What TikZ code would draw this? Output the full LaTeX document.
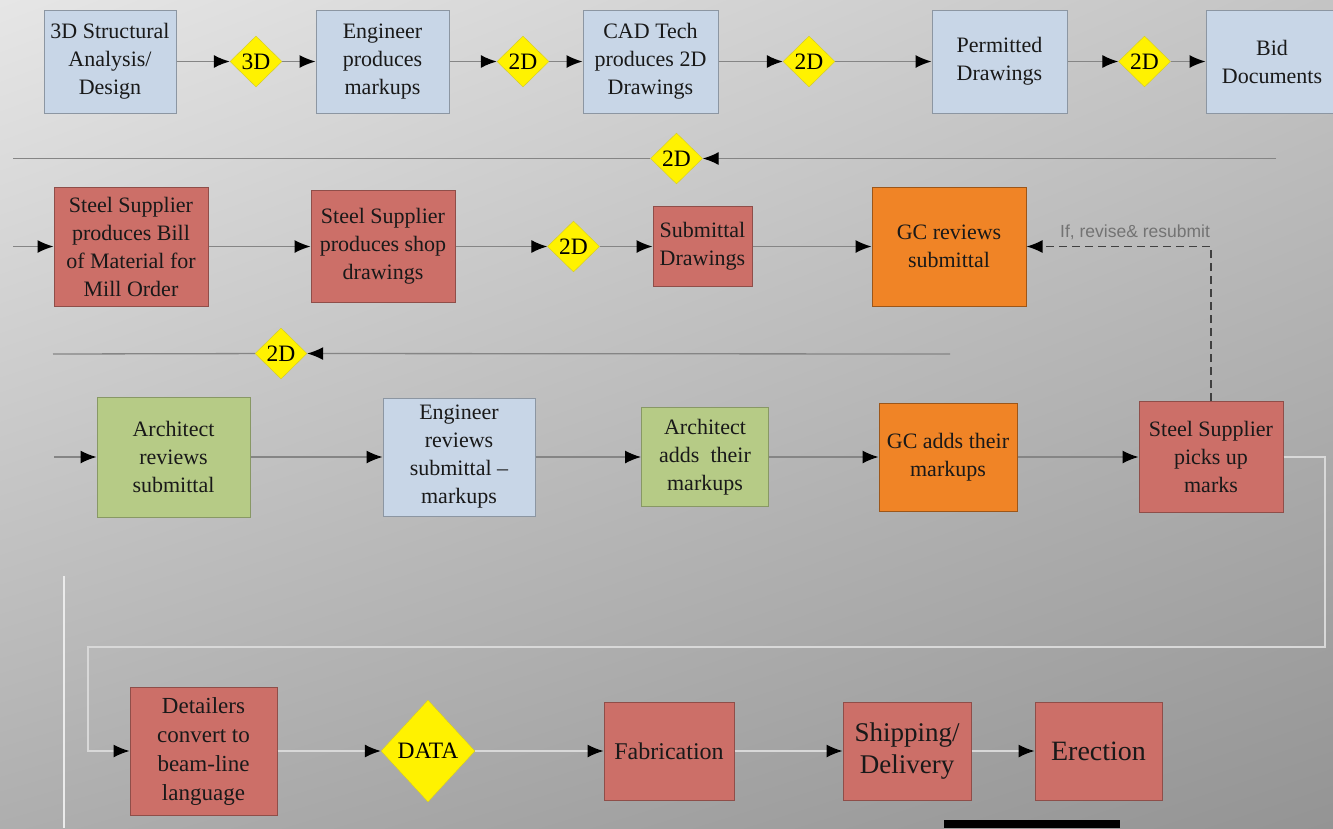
\documentclass[tikz,border=0pt]{standalone}
\usepackage{fontspec}
\setmainfont{Liberation Serif}
\newfontfamily\notefont{Liberation Sans}
\usetikzlibrary{arrows,arrows.meta,shapes,shadings,calc}
\definecolor{boxblue}{HTML}{C8D6E7}
\definecolor{boxred}{HTML}{CC6F68}
\definecolor{boxorange}{HTML}{F08426}
\definecolor{boxgreen}{HTML}{B6CB86}
\definecolor{lineclr}{HTML}{858585}
\definecolor{loopclr}{HTML}{D8D8D8}
\definecolor{bgtl}{HTML}{E6E6E6}
\definecolor{bgtr}{HTML}{C4C4C4}
\definecolor{bgbl}{HTML}{AEAEAE}
\definecolor{bgbr}{HTML}{949494}
\tikzset{
    block/.style = {draw, rectangle, line width=1pt, inner sep=2pt,
        align=center, text=black!90, font=\fontsize{22}{28}\selectfont},
    blueblock/.style = {block, fill=boxblue, draw=black!30!boxblue},
    redblock/.style = {block, fill=boxred, draw=black!30!boxred},
    orangeblock/.style = {block, fill=boxorange, draw=black!35!boxorange},
    greenblock/.style = {block, fill=boxgreen, draw=black!25!boxgreen},
    diam/.style = {diamond, draw=yellow!80!black, fill=yellow, inner sep=0pt,
        minimum width=52pt, minimum height=51pt, font=\fontsize{23.5}{26}\selectfont},
    arrow/.style = {draw=lineclr, line width=1.3pt, -{Latex[length=16pt,width=13pt,color=black]}},
    plain/.style = {draw=lineclr, line width=1.3pt},
    loopline/.style = {draw=loopclr, line width=1.3pt, -{Latex[length=16pt,width=13pt,color=black]}}
}

\begin{document}
\begin{tikzpicture}[x=1pt, y=-1pt]
    \useasboundingbox (0,0) rectangle (1333,828);
    \shade[upper left=bgtl, upper right=bgtr, lower left=bgbl, lower right=bgbr] (0,0) rectangle (1333,828);
    % row 1
    \node [blueblock, minimum width=132pt, minimum height=103pt] (struct) at (110,61.5) {3D Structural\\Analysis/\\Design};
    \node [diam, right of=struct, node distance=146pt] (d1) {3D};
    \node [blueblock, right of=d1, node distance=126.5pt, minimum width=133pt, minimum height=103pt] (engmark) {Engineer\\produces\\markups};
    \node [diam, right of=engmark, node distance=140.5pt] (d2) {2D};
    \node [blueblock, right of=d2, node distance=127.5pt, minimum width=135pt, minimum height=103pt] (cadtech) {CAD Tech\\produces 2D\\Drawings};
    \node [diam, right of=cadtech, node distance=158.5pt] (d3) {2D};
    \node [blueblock, right of=d3, node distance=190.5pt, minimum width=135pt, minimum height=103pt] (permit) {Permitted\\Drawings};
    \node [diam, right of=permit, node distance=145pt] (d4) {2D};
    \node [blueblock, right of=d4, node distance=127.5pt, minimum width=132pt, minimum height=103pt] (bid) {Bid\\Documents};
    \foreach \a/\b in {struct/d1,d1/engmark,engmark/d2,d2/cadtech,cadtech/d3,d3/permit,permit/d4,d4/bid}{
        \draw [arrow] (\a) -- (\b);
        }
    % return line 1
    \coordinate (back1r) at (1276,158.5);
    \coordinate (back1l) at (13,158.5);
    \node [diam] (dback1) at (676.5,158.5) {2D};
    \draw [arrow] (back1r) -- (dback1);
    \draw [plain] (dback1) -- (back1l);
    % row 2
    \coordinate (in2) at (13,246.5);
    \node [redblock, minimum width=154pt, minimum height=119pt] (billmat) at (131,246.5) {Steel Supplier\\produces Bill\\of Material for\\Mill Order};
    \node [redblock, right of=billmat, node distance=252pt, minimum width=144pt, minimum height=112pt] (shopdwg) {Steel Supplier\\produces shop\\drawings};
    \node [diam, right of=shopdwg, node distance=190.5pt] (d5) {2D};
    \node [redblock, right of=d5, node distance=129pt, minimum width=99pt, minimum height=80pt] (submdwg) {Submittal\\Drawings};
    \node [orangeblock, right of=submdwg, node distance=246.5pt, minimum width=154pt, minimum height=119pt] (gcrev) {GC reviews\\submittal};
    \foreach \a/\b in {in2/billmat,billmat/shopdwg,shopdwg/d5,d5/submdwg,submdwg/gcrev}{
        \draw [arrow] (\a) -- (\b);
        }
    % return line 2
    \coordinate (back2r) at (950,354);
    \coordinate (back2l) at (53,354);
    \node [diam] (dback2) at (281,353.5) {2D};
    \draw [arrow] (back2r) -- (dback2);
    \draw [plain] (dback2) -- (back2l);
    % row 3
    \coordinate (in3) at (54,457);
    \node [greenblock, minimum width=153pt, minimum height=120pt] (archrev) at (173.5,457) {Architect\\reviews\\submittal};
    \node [blueblock, right of=archrev, node distance=285.5pt, minimum width=152pt, minimum height=118pt] (engrev) {Engineer\\reviews\\submittal --\\markups};
    \node [greenblock, right of=engrev, node distance=246pt, minimum width=127pt, minimum height=99pt] (archadd) {Architect\\adds~ their\\markups};
    \node [orangeblock, right of=archadd, node distance=243pt, minimum width=138pt, minimum height=108pt] (gcadd) {GC adds their\\markups};
    \node [redblock, right of=gcadd, node distance=263pt, minimum width=144pt, minimum height=111pt] (pickup) {Steel Supplier\\picks up\\marks};
    \foreach \a/\b in {in3/archrev,archrev/engrev,engrev/archadd,archadd/gcadd,gcadd/pickup}{
        \draw [arrow] (\a) -- (\b);
        }
    \draw [draw=black!75, line width=1.5pt, dash pattern=on 8pt off 5pt, -{Latex[length=16pt,width=13pt,color=black]}]
        (pickup.north) |- (gcrev.east)
        node [pos=0.5, anchor=base east, xshift=3pt, yshift=9pt, text=black!55, font=\notefont\fontsize{17.5}{20}\selectfont] {If, revise\& resubmit};
    % row 4
    \node [redblock, minimum width=147pt, minimum height=128pt, font=\fontsize{23}{29}\selectfont] (detail) at (203.5,751) {Detailers\\convert to\\beam-line\\language};
    \node [diam, right of=detail, node distance=224.5pt, minimum width=94pt, minimum height=102pt] (data) {DATA};
    \node [redblock, right of=data, node distance=241pt, minimum width=130pt, minimum height=98pt, font=\fontsize{24}{28}\selectfont] (fab) {Fabrication};
    \node [redblock, right of=fab, node distance=238pt, minimum width=128pt, minimum height=98pt, font=\fontsize{27}{32}\selectfont] (ship) {Shipping/\\Delivery};
    \node [redblock, right of=ship, node distance=191.5pt, minimum width=127pt, minimum height=98pt, font=\fontsize{28}{32}\selectfont] (erect) {Erection};
    \coordinate (loopr) at (1325,647);
    \coordinate (loopl) at (88,647);
    \draw [loopline] (pickup.east) -| (loopr) -- (loopl) |- (detail.west);
    \foreach \a/\b in {detail/data,data/fab,fab/ship,ship/erect}{
        \draw [loopline] (\a) -- (\b);
        }
    % stray marks
    \draw [white!92!black, line width=1.2pt] (64,576) -- (64,828);
    \fill [black] (944,820) rectangle (1120,828);
\end{tikzpicture}
\end{document}
